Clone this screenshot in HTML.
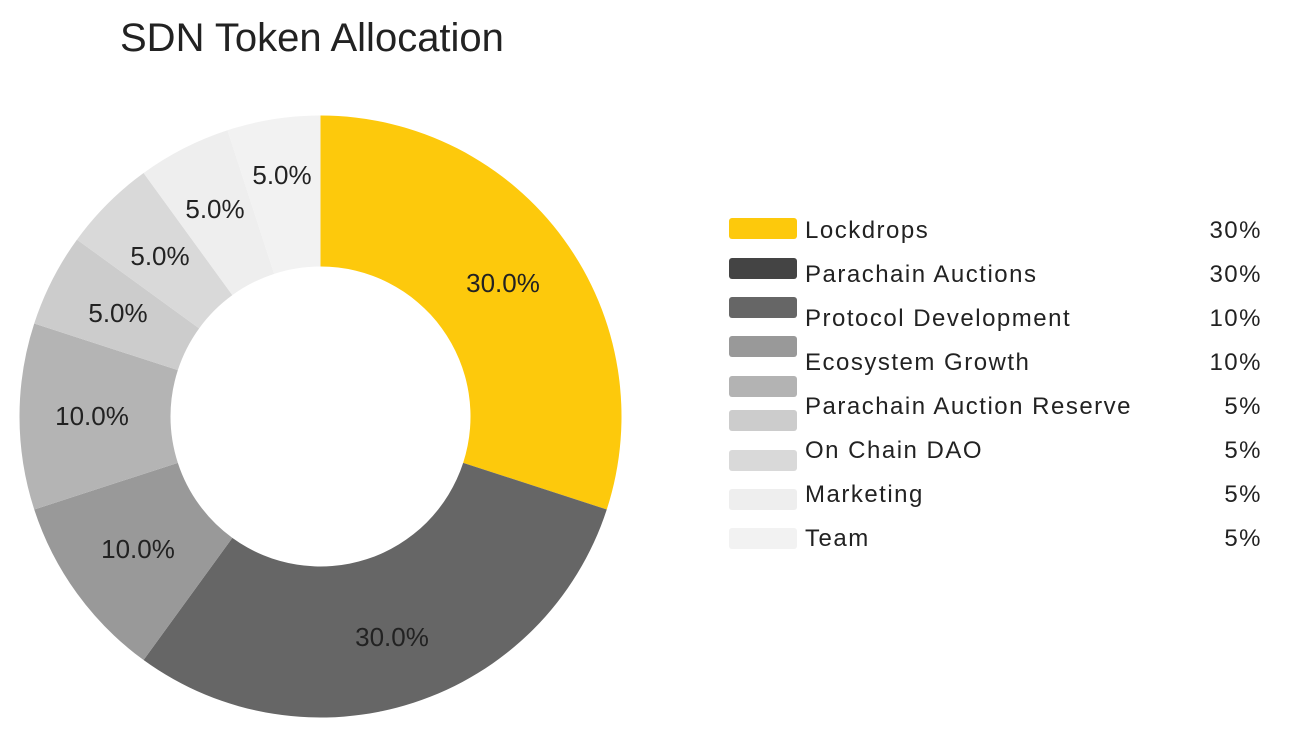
<!DOCTYPE html>
<html><head><meta charset="utf-8"><style>
body{margin:0;background:#fff;width:1289px;height:740px;overflow:hidden;font-family:"Liberation Sans",sans-serif;}
</style></head><body>
<svg id="s" width="1289" height="740" xmlns="http://www.w3.org/2000/svg">
<text x="120" y="51" font-size="40" fill="#222" font-family="Liberation Sans, sans-serif">SDN Token Allocation</text>
<g id="pie"></g>
<g font-size="26" fill="#222" text-anchor="middle" font-family="Liberation Sans, sans-serif">
<text x="503" y="292">30.0%</text>
<text x="392" y="646">30.0%</text>
<text x="138" y="558">10.0%</text>
<text x="92" y="425">10.0%</text>
<text x="118" y="322">5.0%</text>
<text x="160" y="265">5.0%</text>
<text x="215" y="218">5.0%</text>
<text x="282" y="184">5.0%</text>
</g>
<g id="leg" font-size="24" fill="#222" font-family="Liberation Sans, sans-serif" letter-spacing="1.5"></g>
</svg>
<script>
var cx=320.5,cy=416.5,R=301,r=150;
var fr=[0,.3,.6,.7,.8,.85,.9,.95,1];
var col=["#fdc90c","#666666","#999999","#b4b4b4","#cccccc","#d9d9d9","#eeeeee","#f2f2f2"];
function p(f,rad){var t=f*2*Math.PI;return [cx+rad*Math.sin(t),cy-rad*Math.cos(t)];}
var g=document.getElementById('pie'),h='';
for(var i=0;i<8;i++){var a=fr[i],b=fr[i+1],l=(b-a)>.5?1:0;
var p1=p(a,R),p2=p(b,R),p3=p(b,r),p4=p(a,r);
h+='<path fill="'+col[i]+'" d="M'+p1+' A'+R+','+R+' 0 '+l+' 1 '+p2+' L'+p3+' A'+r+','+r+' 0 '+l+' 0 '+p4+'Z"/>';}
g.innerHTML=h;
var names=["Lockdrops","Parachain Auctions","Protocol Development","Ecosystem Growth","Parachain Auction Reserve","On Chain DAO","Marketing","Team"];
var pc=["30%","30%","10%","10%","5%","5%","5%","5%"];
var lc=["#fdc90c","#444444","#666666","#999999","#b3b3b3","#cccccc","#d9d9d9","#eeeeee","#f2f2f2"];
var sy=[218,258,297,336,376,410,450,489,528];
var ty=[238,282,326,370,414,458,502,546];
var lh='';
for(var i=0;i<9;i++){
lh+='<rect x="729" y="'+sy[i]+'" width="68" height="21" rx="3" fill="'+lc[i]+'"/>';}
for(var i=0;i<8;i++){
lh+='<text x="805" y="'+ty[i]+'">'+names[i]+'</text>';
lh+='<text x="1262" y="'+ty[i]+'" text-anchor="end">'+pc[i]+'</text>';}
document.getElementById('leg').innerHTML=lh;
</script>
</body></html>
